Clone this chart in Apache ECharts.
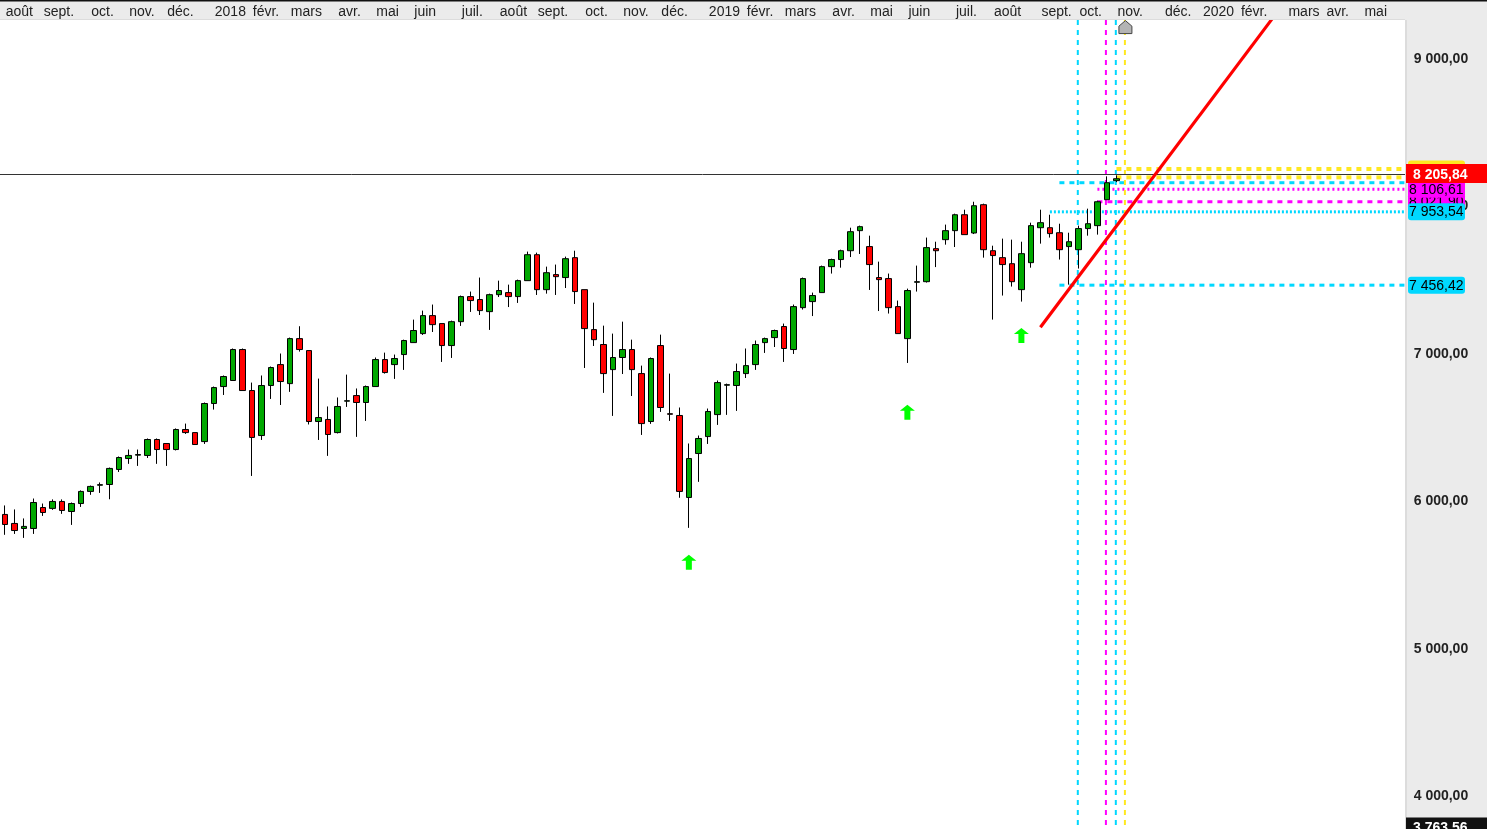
<!DOCTYPE html>
<html><head><meta charset="utf-8">
<style>html,body{margin:0;padding:0;background:#fff;overflow:hidden}#c{width:1487px;height:829px}</style>
<script src="https://cdn.jsdelivr.net/npm/echarts@6/dist/echarts.min.js"></script>
</head><body><div id="c"></div>
<script>
const monthIdx=[0,4,9,13,17,22,26,30,35,39,43,48,52,56,61,65,69,74,78,82,87,91,95,100,104,109,113,117,122,126,130,135,139,143];
const monthNames=['août','sept.','oct.','nov.','déc.','2018','févr.','mars','avr.','mai','juin','juil.','août','sept.','oct.','nov.','déc.','2019','févr.','mars','avr.','mai','juin','juil.','août','sept.','oct.','nov.','déc.','2020','févr.','mars','avr.','mai'];
const opens=[5902,5841,5807,5807,5949,5943,5990,5922,5976,6058,6100,6105,6207,6281,6304,6302,6410,6383,6342,6478,6457,6396,6654,6769,6810,7020,6742,6437,6776,6918,6789,7094,7013,6532,6546,6457,6670,6708,6661,6769,6952,6918,6986,7067,7128,7250,7196,7047,7209,7379,7359,7277,7392,7406,7379,7487,7663,7426,7528,7508,7643,7426,7155,7054,6884,6966,7020,6857,6532,7047,6585,6573,6017,6315,6430,6579,6778,6776,6857,6918,7067,7101,7176,7020,7304,7345,7406,7582,7630,7690,7826,7718,7508,7501,7311,7094,7476,7480,7704,7765,7826,7934,7810,8002,7690,7643,7602,7426,7609,7846,7846,7812,7718,7697,7840,7860,8036,8165];
const closes=[5834,5793,5821,5983,5915,5990,5929,5976,6058,6092,6104,6214,6288,6302,6308,6410,6342,6342,6478,6457,6376,6654,6762,6837,7020,6742,6424,6776,6898,6803,7094,7020,6532,6559,6444,6634,6673,6661,6769,6952,6864,6959,7081,7149,7250,7189,7047,7209,7379,7352,7284,7392,7420,7379,7487,7663,7426,7541,7514,7636,7413,7162,7087,6857,6966,7020,6884,6518,6959,6627,6581,6058,6281,6417,6600,6796,6782,6871,6911,7054,7094,7149,7027,7311,7501,7386,7582,7630,7690,7819,7853,7596,7494,7304,7128,7420,7480,7711,7690,7826,7934,7799,7995,7697,7657,7596,7480,7670,7860,7880,7806,7697,7751,7840,7873,8022,8151,8178];
const lows=[5764,5770,5743,5770,5892,5933,5906,5831,5953,6035,6048,6005,6190,6245,6231,6285,6245,6231,6336,6448,6376,6380,6613,6712,6810,6742,6163,6407,6685,6644,6733,7006,6512,6407,6299,6451,6631,6428,6536,6769,6857,6821,6882,7067,7119,7139,6936,6963,7180,7275,7254,7153,7376,7308,7336,7487,7390,7399,7390,7437,7329,6895,7044,6726,6570,6854,6705,6441,6516,6597,6536,6015,5811,6123,6380,6509,6577,6604,6827,6882,6997,7037,6936,6990,7291,7247,7406,7535,7575,7647,7668,7424,7281,7264,7128,6929,7413,7474,7579,7731,7715,7799,7803,7643,7223,7386,7447,7345,7575,7738,7779,7630,7460,7569,7792,7799,8036,8155];
const highs=[5963,5936,5875,6010,5976,6004,6004,5983,6065,6098,6119,6220,6295,6342,6342,6417,6417,6383,6485,6518,6457,6661,6769,6844,7027,7027,6796,6844,6905,6993,7101,7178,7013,6823,6634,6695,6850,6756,6776,6966,6999,6986,7087,7223,7284,7325,7196,7216,7386,7413,7508,7399,7487,7460,7494,7684,7677,7582,7596,7650,7690,7426,7338,7182,7128,7209,7087,6911,6966,7121,6857,6627,6383,6437,6620,6810,6789,6925,7027,7081,7101,7155,7196,7325,7508,7406,7589,7636,7697,7846,7860,7792,7616,7535,7352,7433,7589,7779,7751,7867,7941,7968,8022,8009,7724,7772,7765,7751,7880,7968,7934,7873,7812,7860,7975,8029,8194,8201];
const arrowIdx=[72,95,107];
const arrowVal=[5578,6595,7116];
const markerIdx=[118];
const markerVal=[9206];
const yTicks=[4000,5000,6000,7000,8000,9000];
const vLineIdx=[113,116,117,118];
const vLineColor=['#00d8ff','#ff00ff','#00d8ff','#ffe820'];
const hLineVal=[8244,8187,8151,8106.61,8021.90,7953.54,7456.42];
const hLineStart=[117,117,111,115,115,110,111];
const hLineColor=['#ffe820','#ffe820','#00d8ff','#ff00ff','#ff00ff','#00d8ff','#00d8ff'];
const hLineDash=[[5,5],[5,5],[5,5],[2,3],[5,5],[2,2],[5,5]];
const lastPrice=8205.84;
const lowPrice=3763.56;
const trendIdx=[109,134];
const trendVal=[7171,9314];
const tagVal=[8244,8021.90,8106.61,7953.54,7456.42];
const tagText=['','8 021,90','8 106,61','7 953,54','7 456,42'];
const tagColor=['#ffe820','#ff00ff','#ff00ff','#00d8ff','#00d8ff'];

const fmt=v=>{const s=v.toFixed(2).replace('.',',');const p=s.split(',');return p[0].replace(/\B(?=(\d{3})+$)/g,' ')+','+p[1];};
const categories=Array.from({length:148},()=>'');
monthIdx.forEach((k,i)=>{categories[k]=monthNames[i];});
const candles=opens.map((o,i)=>[o,closes[i],lows[i],highs[i]]);
const FONT='"Liberation Sans",Arial,sans-serif';
const GRID_R=1405,GRID_B=829,GRID_T=20.5;

const chart=echarts.init(document.getElementById('c'),null,{renderer:'canvas',width:1487,height:829});
chart.setOption({
 animation:false,backgroundColor:'#fff',tooltip:{show:false},
 grid:{left:-1.3,top:GRID_T,width:1407.5,height:GRID_B-GRID_T+0.5,containLabel:false,show:false},
 xAxis:{type:'category',position:'top',data:categories,z:6,boundaryGap:true,axisLine:{show:false},axisTick:{show:false},splitLine:{show:false},
  axisLabel:{interval:0,align:'left',color:'#222',fontFamily:FONT,fontSize:14,margin:1,padding:[0,0,0,1],hideOverlap:false,showMinLabel:true,showMaxLabel:true}},
 yAxis:{type:'value',position:'right',min:3769.5,max:9250.7,z:6,scale:true,axisLine:{show:false},axisTick:{show:false},splitLine:{show:false},
  axisLabel:{customValues:yTicks,formatter:v=>'{a|'+fmt(v)+'}',margin:7.5,align:'left',
   rich:{a:{color:'#222',fontFamily:FONT,fontWeight:'bold',fontSize:14,padding:[3,0,0,0]}}}},
 graphic:{elements:[
  {type:'rect',z:3,silent:true,shape:{x:GRID_R,y:0,width:82,height:829},style:{fill:'#ebebeb'}},
  {type:'rect',z:3,silent:true,shape:{x:GRID_R,y:0,width:2,height:829},style:{fill:'#dcdcdc'}},
  {type:'rect',z:3,silent:true,shape:{x:0,y:0,width:1487,height:20},style:{fill:'#ebebeb'}},
  {type:'rect',z:3,silent:true,shape:{x:0,y:19,width:GRID_R,height:1},style:{fill:'#dcdcdc'}},
  {type:'rect',z:3,silent:true,shape:{x:0,y:0,width:1487,height:1.5},style:{fill:'#111'}}
 ]},
 series:[
  {type:'custom',name:'levels',z:2,silent:true,coordinateSystem:'cartesian2d',data:hLineVal.map((v,i)=>[hLineStart[i],v,i]),
   encode:{x:0,y:1},
   renderItem:(p,api)=>{const i=api.value(2),a=api.coord([hLineStart[i],hLineVal[i]]);
    return {type:'line',shape:{x1:a[0],y1:a[1],x2:GRID_R,y2:a[1]},style:{stroke:hLineColor[i],lineWidth:i<2?4:3,lineDash:hLineDash[i],fill:null}};}},
  {type:'custom',name:'verticals',z:2,silent:true,data:vLineIdx.map((v,i)=>[v,8000,i]),encode:{x:0,y:1},
   renderItem:(p,api)=>{const i=api.value(2),a=api.coord([vLineIdx[i],8000]),x=a[0]-(i%2?1:0.6);
    return {type:'line',shape:{x1:x,y1:20,x2:x,y2:GRID_B},style:{stroke:vLineColor[i],lineWidth:2,lineDash:[5,5],fill:null}};}},
  {type:'candlestick',name:'cours',z:2,data:candles,barWidth:6,clip:true,
   itemStyle:{color:'#00a800',color0:'#ff0000',borderColor:'#000',borderColor0:'#000',borderWidth:1}},
  {type:'custom',name:'last',z:2,silent:true,data:[[0,lastPrice]],encode:{x:0,y:1},
   renderItem:(p,api)=>{const a=api.coord([0,lastPrice]),y=Math.floor(a[1]-0.5)+0.5;
    return {type:'line',shape:{x1:0,y1:y,x2:GRID_R,y2:y},style:{stroke:'#333',lineWidth:1,fill:null},z2:20};}},
  {type:'custom',name:'trend',z:2,silent:true,data:[[trendIdx[0],trendVal[0]]],encode:{x:0,y:1},
   renderItem:(p,api)=>{const a=api.coord([trendIdx[0],trendVal[0]]),b=api.coord([trendIdx[1],trendVal[1]]);
    return {type:'line',shape:{x1:a[0],y1:a[1],x2:b[0],y2:b[1]},style:{stroke:'#ff0000',lineWidth:3.2,fill:null},z2:30};}},
  {type:'scatter',name:'signaux',z:2,silent:true,data:arrowIdx.map((k,i)=>[k,arrowVal[i]]),symbol:'path://M7.5 0L15 6L10.5 6L10.5 15L4.5 15L4.5 6L0 6Z',symbolSize:[15,15],itemStyle:{color:'#00ff00',opacity:1}},
  {type:'scatter',name:'repere',z:4,silent:true,clip:false,data:markerIdx.map((k,i)=>[k,markerVal[i]]),symbol:'path://M6.5 0L13 6L13 14L0 14L0 6Z',symbolSize:[13,13],symbolOffset:[-0.5,0],itemStyle:{color:'#b4b4b4',borderColor:'#444',borderWidth:1,opacity:1}},
  {type:'custom',name:'tags',z:7,silent:true,clip:false,data:tagVal.map((v,i)=>[0,v,i]),encode:{x:0,y:1},
   renderItem:(p,api)=>{const i=api.value(2),y=api.coord([0,tagVal[i]])[1];
    return {type:'group',children:[
     {type:'rect',shape:{x:1408,y:y-8.5,width:57,height:17,r:3},style:{fill:tagColor[i]}},
     {type:'text',x:1409,y:y+0.5,style:{text:tagText[i],fill:'#000',font:'14px '+FONT,verticalAlign:'middle',textAlign:'left'}}]};}},
  {type:'custom',name:'priceTags',z:8,silent:true,clip:false,data:[[0,lastPrice,0],[0,lowPrice,1]],encode:{x:0,y:1},
   renderItem:(p,api)=>{const i=api.value(2),v=api.value(1);let y=api.coord([0,v])[1];if(i===1)y=Math.min(y,828);
    return {type:'group',children:[
     {type:'rect',shape:{x:GRID_R+1,y:y-10.5,width:81,height:i?20:19},style:{fill:i?'#111':'#ff0000'}},
     {type:'text',x:1413,y:y+0.5,style:{text:fmt(v),fill:'#fff',font:'bold 14px '+FONT,verticalAlign:'middle',textAlign:'left'}}]};}}
 ]
});
</script></body></html>
